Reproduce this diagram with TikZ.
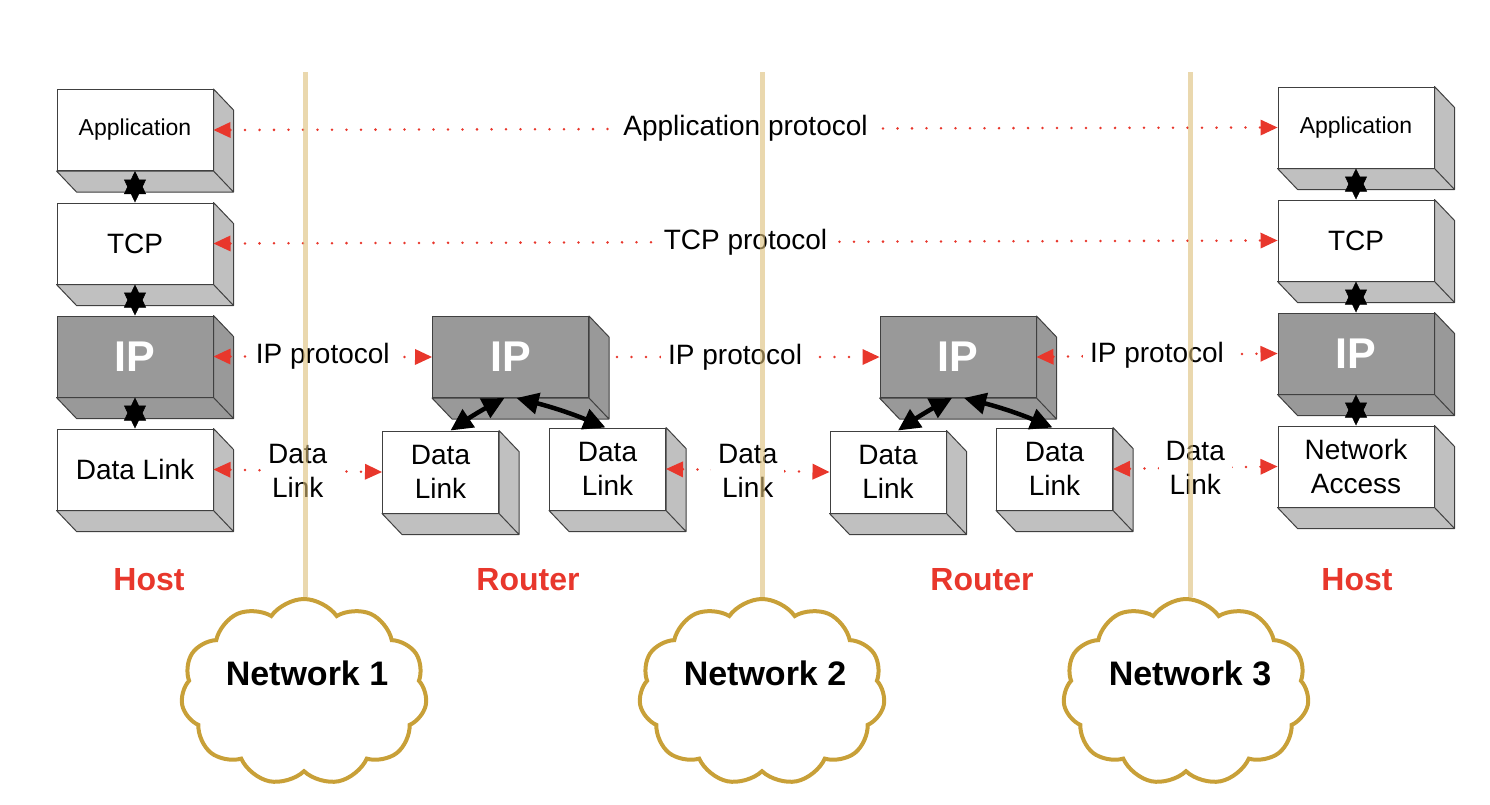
\documentclass[tikz,border=0pt]{standalone}
\usepackage{fontspec}
\setmainfont{Liberation Sans}
\usepackage{tikz}
\usetikzlibrary{arrows.meta,shapes.symbols}
\definecolor{sidegray}{HTML}{C0C0C0}
\definecolor{ipgray}{HTML}{999999}
\definecolor{protored}{HTML}{E8372C}
\definecolor{wirebeige}{RGB}{220,190,120}
\definecolor{cloudgold}{HTML}{C8A038}

\begin{document}
\begin{tikzpicture}[x=1pt, y=-1pt,
      block/.style = {
        rectangle, draw=black!75, line width=1pt, fill=white, inner sep=0pt,
        minimum width=156pt, minimum height=81pt, align=center,
        font=\fontsize{28}{34}\selectfont },
      block-small/.style = { block, minimum width=116pt, minimum height=82pt },
      block-ip/.style = { block, fill=ipgray, text=white,
        font=\fontsize{43}{46}\selectfont\bfseries },
      face/.style = { draw=black!75, line width=1pt, line join=round },
      line-proto/.style = { draw=protored, line width=2.8pt, line cap=round,
        dash pattern=on 0pt off 14.5pt,
        >={Triangle[length=17pt, width=16pt, line width=0pt]} },
      proto-label/.style = { fill=white, inner xsep=7pt, inner ysep=2pt,
        align=center, font=\fontsize{28}{34}\selectfont },
      line-star/.style = { draw, line width=0.5pt, <->,
        >={Triangle[length=23pt, width=22pt]} },
      line-ip/.style = { draw, line width=4.5pt, <->,
        >={Triangle[length=22pt, width=21pt]} },
      label-red/.style = { text=protored, font=\fontsize{32}{36}\selectfont\bfseries },
      net/.style = { cloud, cloud puffs=11, cloud puff arc=110, aspect=1.35,
        draw=cloudgold, line width=4pt, minimum width=246pt, minimum height=186pt },
      net-label/.style = { font=\fontsize{34}{38}\selectfont\bfseries },
      divider/.style = { draw=wirebeige, line width=5pt, opacity=0.6 }]
    \useasboundingbox (0,0) rectangle (1490,804);
    % host on the left
    \node [block, font=\fontsize{23}{28}\selectfont] (apphost1) at (135, 130) {Application};
    \node [block] (tcphost1) at (135, 243.5) {TCP};
    \node [block-ip] (iphost1) at (135, 356.5) {IP};
    \node [block] (linkhost1) at (135, 469.5) {Data Link};
    % first router
    \node [block-ip] (iprouter1) at (510.5, 357) {IP};
    \node [block-small] (linkrouter1a) at (440.5, 472) {Data\\Link};
    \node [block-small] (linkrouter1b) at (607.5, 469) {Data\\Link};
    % second router
    \node [block-ip] (iprouter2) at (958, 357) {IP};
    \node [block-small] (linkrouter2a) at (888, 472) {Data\\Link};
    \node [block-small] (linkrouter2b) at (1054.5, 469) {Data\\Link};
    % host on the right
    \node [block, font=\fontsize{23}{28}\selectfont] (apphost2) at (1356, 127.5) {Application};
    \node [block] (tcphost2) at (1356, 240.5) {TCP};
    \node [block-ip] (iphost2) at (1356, 353.5) {IP};
    \node [block] (accesshost2) at (1356, 466.5) {Network\\Access};
    % side and bottom faces of the blocks
    \foreach \n/\c in {apphost1/sidegray, tcphost1/sidegray, iphost1/ipgray,
        linkhost1/sidegray, iprouter1/ipgray, linkrouter1a/sidegray,
        linkrouter1b/sidegray, iprouter2/ipgray, linkrouter2a/sidegray,
        linkrouter2b/sidegray, apphost2/sidegray, tcphost2/sidegray,
        iphost2/ipgray, accesshost2/sidegray}
      \filldraw [face, fill=\c] (\n.north east) -- ([shift={(20,21)}]\n.north east)
        -- ([shift={(20,21)}]\n.south east) -- ([shift={(20,21)}]\n.south west)
        -- (\n.south west) -- (\n.south east) -- cycle
        (\n.south east) -- ([shift={(20,21)}]\n.south east);
    % layers inside the hosts
    \draw [line-star] (apphost1.south) -- (tcphost1.north);
    \draw [line-star] (tcphost1.south) -- (iphost1.north);
    \draw [line-star] (iphost1.south) -- (linkhost1.north);
    \draw [line-star] (apphost2.south) -- (tcphost2.north);
    \draw [line-star] (tcphost2.south) -- (iphost2.north);
    \draw [line-star] (iphost2.south) -- (accesshost2.north);
    % layers inside the routers
    \draw [line-ip] ([shift={(-6,0)}]iprouter1.south) to[bend right=3] ([shift={(10,0)}]linkrouter1a.north);
    \draw [line-ip] ([shift={(6,0)}]iprouter1.south) to[bend left=4] ([shift={(-2,0)}]linkrouter1b.north);
    \draw [line-ip] ([shift={(-6,0)}]iprouter2.south) to[bend right=3] ([shift={(10,0)}]linkrouter2a.north);
    \draw [line-ip] ([shift={(6,0)}]iprouter2.south) to[bend left=4] ([shift={(-2,0)}]linkrouter2b.north);
    % peer protocols
    \draw [line-proto, <->] (apphost1.east) -- node [proto-label] {Application protocol} (apphost2.west);
    \draw [line-proto, <->] (tcphost1.east) -- node [proto-label] {TCP protocol} (tcphost2.west);
    \draw [line-proto, <->] (iphost1.east) -- node [proto-label] {IP protocol} (iprouter1.west);
    \draw [line-proto, ->] ([shift={(28,0)}]iprouter1.east) -- node [proto-label, pos=0.45] {IP protocol} (iprouter2.west);
    \draw [line-proto, <->] (iprouter2.east) -- node [proto-label] {IP protocol} (iphost2.west);
    \draw [line-proto, <->] (linkhost1.east) -- node [proto-label] {Data\\Link} (linkrouter1a.west);
    \draw [line-proto, <->] (linkrouter1b.east) -- node [proto-label] {Data\\Link} (linkrouter2a.west);
    \draw [line-proto, <->] (linkrouter2b.east) -- node [proto-label] {Data\\Link} (accesshost2.west);
    % names of the machines
    \node [label-red] (hostname1) at (149, 580) {Host};
    \node [label-red] (routername1) at (528, 580) {Router};
    \node [label-red] (routername2) at (982, 580) {Router};
    \node [label-red] (hostname2) at (1357, 580) {Host};
    % networks
    \node [net] (net1) at (304, 692) {};
    \node [net] (net2) at (762, 692) {};
    \node [net] (net3) at (1186, 692) {};
    \node [net-label] (netname1) at ([shift={(3,-19)}]net1.center) {Network 1};
    \node [net-label] (netname2) at ([shift={(3,-19)}]net2.center) {Network 2};
    \node [net-label] (netname3) at ([shift={(4,-19)}]net3.center) {Network 3};
    \coordinate (wire1) at (305, 72);
    \coordinate (wire2) at (762, 72);
    \coordinate (wire3) at (1190, 72);
    \draw [divider] (wire1) -- (wire1 |- net1.north);
    \draw [divider] (wire2) -- (wire2 |- net2.north);
    \draw [divider] (wire3) -- (wire3 |- net3.north);
  \end{tikzpicture}
\end{document}
